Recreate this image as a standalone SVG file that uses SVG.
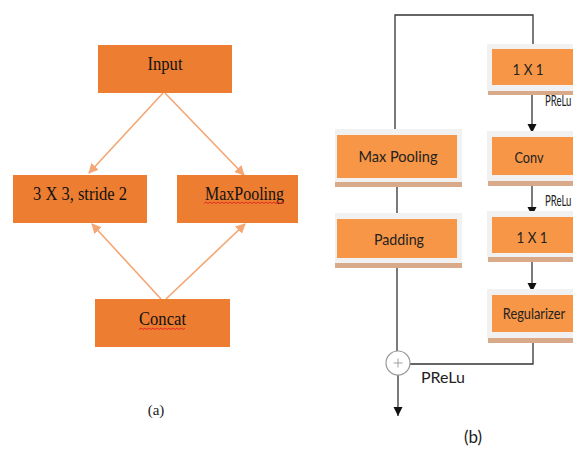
<svg xmlns="http://www.w3.org/2000/svg" width="573" height="449" viewBox="0 0 573 449">
<style>
.ba{fill:#ED7D31}
.ta{font-family:"Liberation Serif",serif;font-size:18px;fill:#111;text-anchor:middle}
.ca{stroke:#F4A673;stroke-width:1.6;fill:none}
.bg{fill:#f1f1f1}
.bo{fill:#F79646}
.sh{fill:#D8AA8A}
.tb{font-family:Lato,"Open Sans",sans-serif;font-size:16px;fill:#222;text-anchor:middle}
.lb{font-family:Lato,"Open Sans",sans-serif;font-size:16px;fill:#222}
.cb{stroke:#333;stroke-width:1.3;fill:none}
.sq{stroke:#E02020;stroke-width:0.9;fill:none}
</style>
<defs>
<marker id="ao" markerWidth="10" markerHeight="10" refX="9" refY="5" orient="auto" markerUnits="userSpaceOnUse">
<path d="M0,0 L10,5 L0,10 z" fill="#F4A673"/>
</marker>
<marker id="ab" markerWidth="9" markerHeight="11" refX="9" refY="4.5" orient="auto" markerUnits="userSpaceOnUse">
<path d="M0,0 L9,4.5 L0,9 z" fill="#111"/>
</marker>
</defs>
<rect width="573" height="449" fill="#fff"/>

<g id="connectors">
<line class="ca" x1="163" y1="93" x2="89" y2="173" marker-end="url(#ao)"/>
<line class="ca" x1="165" y1="93" x2="244" y2="175" marker-end="url(#ao)"/>
<line class="ca" x1="161" y1="299" x2="92" y2="224" marker-end="url(#ao)"/>
<line class="ca" x1="166" y1="299" x2="245" y2="224" marker-end="url(#ao)"/>
<polyline class="cb" points="395,129 395,15 533,15 533,44"/>
<line class="cb" x1="397" y1="186" x2="397" y2="213"/>
<line class="cb" x1="397" y1="268" x2="397" y2="351"/>
<line class="cb" x1="398" y1="375" x2="398" y2="416" marker-end="url(#ab)"/>
<line class="cb" x1="532" y1="95" x2="532" y2="133" marker-end="url(#ab)"/>
<line class="cb" x1="532" y1="186" x2="532" y2="216" marker-end="url(#ab)"/>
<line class="cb" x1="532" y1="261" x2="532" y2="292" marker-end="url(#ab)"/>
<polyline class="cb" points="533,343 533,364 410,364"/>
</g>

<g id="input">
<rect class="ba" x="98" y="45" width="134" height="48"/>
<text class="ta" x="165" y="70" textLength="35" lengthAdjust="spacingAndGlyphs">Input</text>
</g>
<g id="conv3x3">
<rect class="ba" x="13" y="175" width="134" height="48"/>
<text class="ta" x="80" y="200" textLength="94" lengthAdjust="spacingAndGlyphs">3 X 3, stride 2</text>
</g>
<g id="maxpooling-a">
<rect class="ba" x="177" y="175" width="121" height="48"/>
<text class="ta" x="244.5" y="200" textLength="79" lengthAdjust="spacingAndGlyphs">MaxPooling</text>
<path class="sq" d="M204,203.5 l2,-1.5 l2,1.5 l2,-1.5 l2,1.5 l2,-1.5 l2,1.5 l2,-1.5 l2,1.5 l2,-1.5 l2,1.5 l2,-1.5 l2,1.5 l2,-1.5 l2,1.5 l2,-1.5 l2,1.5 l2,-1.5 l2,1.5 l2,-1.5 l2,1.5 l2,-1.5 l2,1.5 l2,-1.5 l2,1.5 l2,-1.5 l2,1.5 l2,-1.5 l2,1.5 l2,-1.5 l2,1.5 l2,-1.5 l2,1.5 l2,-1.5 l2,1.5 l2,-1.5 l2,1.5 l2,-1.5 l2,1.5 l2,-1.5 l2,1.5"/>
</g>
<g id="concat">
<rect class="ba" x="95" y="299" width="135" height="48"/>
<text class="ta" x="162.5" y="325" textLength="47" lengthAdjust="spacingAndGlyphs">Concat</text>
<path class="sq" d="M139,329.5 l2,-1.5 l2,1.5 l2,-1.5 l2,1.5 l2,-1.5 l2,1.5 l2,-1.5 l2,1.5 l2,-1.5 l2,1.5 l2,-1.5 l2,1.5 l2,-1.5 l2,1.5 l2,-1.5 l2,1.5 l2,-1.5 l2,1.5 l2,-1.5 l2,1.5 l2,-1.5 l2,1.5 l2,-1.5"/>
</g>
<text id="label-a" x="156" y="415" style="font-family:'Liberation Serif',serif;font-size:15px;fill:#222;text-anchor:middle">(a)</text>

<g id="conv1x1-top">
<rect class="sh" x="488" y="90" width="85" height="5"/>
<rect class="bg" x="487" y="44" width="86" height="47"/>
<rect class="bo" x="492" y="49" width="81" height="36"/>
<text class="tb" x="528" y="75" textLength="31" lengthAdjust="spacingAndGlyphs">1 X 1</text>
</g>
<text class="lb" transform="translate(545,106) scale(0.6,1)">PReLu</text>
<g id="max-pooling-b">
<rect class="sh" x="335" y="182" width="127" height="5"/>
<rect class="bg" x="335" y="129" width="127" height="53"/>
<rect class="bo" x="337" y="135" width="120" height="43"/>
<text class="tb" x="398" y="162" textLength="79" lengthAdjust="spacingAndGlyphs">Max Pooling</text>
</g>
<g id="conv">
<rect class="sh" x="488" y="181" width="85" height="5"/>
<rect class="bg" x="487" y="131" width="86" height="50"/>
<rect class="bo" x="492" y="137" width="81" height="38"/>
<text class="tb" x="529" y="163" textLength="29" lengthAdjust="spacingAndGlyphs">Conv</text>
</g>
<text class="lb" transform="translate(545,206) scale(0.6,1)">PReLu</text>
<g id="padding">
<rect class="sh" x="335" y="263" width="127" height="5"/>
<rect class="bg" x="335" y="213" width="127" height="50"/>
<rect class="bo" x="337" y="219" width="120" height="39"/>
<text class="tb" x="399" y="245" textLength="50" lengthAdjust="spacingAndGlyphs">Padding</text>
</g>
<g id="conv1x1-bottom">
<rect class="sh" x="488" y="257" width="85" height="5"/>
<rect class="bg" x="487" y="211" width="86" height="46"/>
<rect class="bo" x="492" y="217" width="81" height="36"/>
<text class="tb" x="532" y="243" textLength="31" lengthAdjust="spacingAndGlyphs">1 X 1</text>
</g>
<g id="regularizer">
<rect class="sh" x="488" y="338" width="85" height="5"/>
<rect class="bg" x="487" y="289" width="86" height="49"/>
<rect class="bo" x="492" y="295" width="81" height="37"/>
<text class="tb" transform="translate(534,319) scale(0.8,1)">Regularizer</text>
</g>
<g id="sum">
<circle cx="398" cy="363" r="12" fill="#fff" stroke="#9a9a9a" stroke-width="1.2"/>
<path d="M398,358.5 v9 M393.5,363 h9" stroke="#a0a0a0" stroke-width="1"/>
</g>
<text x="421" y="383" class="lb">PReLu</text>
<text id="label-b" x="473" y="443" style="font-family:Lato,'Open Sans',sans-serif;font-size:17px;fill:#222;text-anchor:middle">(b)</text>
</svg>
